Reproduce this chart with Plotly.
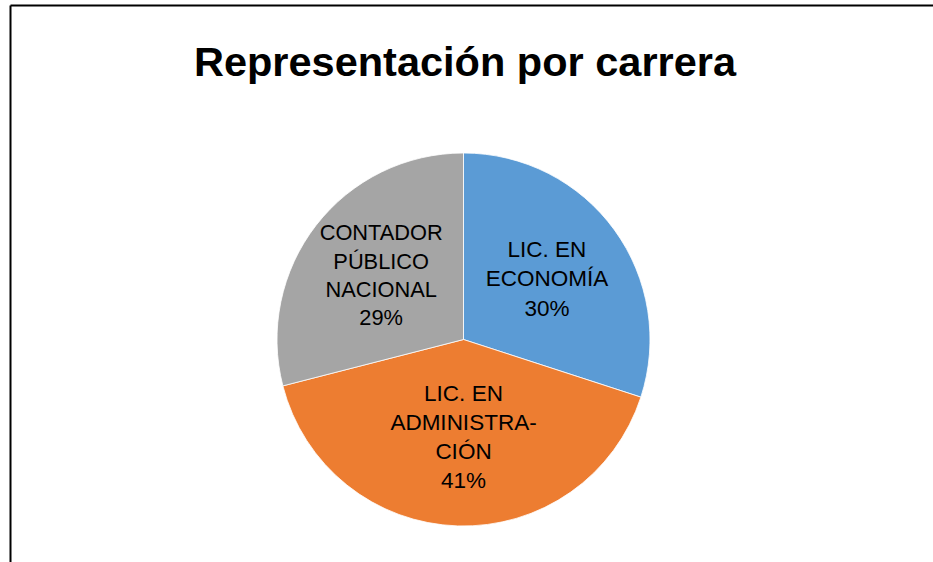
import plotly.graph_objects as go

categories = ["LIC. EN<br>ECONOMÍA", "LIC. EN<br>ADMINISTRA-<br>CIÓN", "CONTADOR<br>PÚBLICO<br>NACIONAL"]
values = [30, 41, 29]
colors = ["#5B9BD5", "#ED7D31", "#A5A5A5"]
title_text = "Representación por carrera"

W, H = 933, 562
cx, cy, r = 463.5, 339.5, 186.5

fig = go.Figure(go.Pie(
    labels=categories,
    values=values,
    sort=False,
    direction="clockwise",
    rotation=0,
    marker=dict(colors=colors, line=dict(color="white", width=0.8)),
    texttemplate="%{label}<br>%{percent:.0%}",
    textposition="inside",
    insidetextorientation="horizontal",
    textfont=dict(family="Liberation Sans, Arial, sans-serif", size=22.5, color="black"),
    showlegend=False,
    domain=dict(x=[(cx - r) / W, (cx + r) / W],
                y=[(H - cy - r) / H, (H - cy + r) / H]),
))

fig.update_layout(
    width=W, height=H,
    margin=dict(l=0, r=0, t=0, b=0),
    paper_bgcolor="white",
    plot_bgcolor="white",
    title=dict(text="<b>" + title_text + "</b>", x=465 / W, xanchor="center",
               y=1 - 61 / H, yanchor="middle", yref="container",
               font=dict(family="Liberation Sans, Arial, sans-serif", size=41.5, color="black")),
    shapes=[
        dict(type="line", xref="paper", yref="paper",
             x0=10.5 / W, x1=1.02, y0=1 - 5.5 / H, y1=1 - 5.5 / H,
             line=dict(color="black", width=2)),
        dict(type="line", xref="paper", yref="paper",
             x0=10.5 / W, x1=10.5 / W, y0=1 - 5.5 / H, y1=-0.02,
             line=dict(color="black", width=2)),
    ],
)

fig.write_html(
    "out.html",
    config={"displayModeBar": False},
    post_script="document.body.style.margin='0';document.body.style.overflow='hidden';",
)
